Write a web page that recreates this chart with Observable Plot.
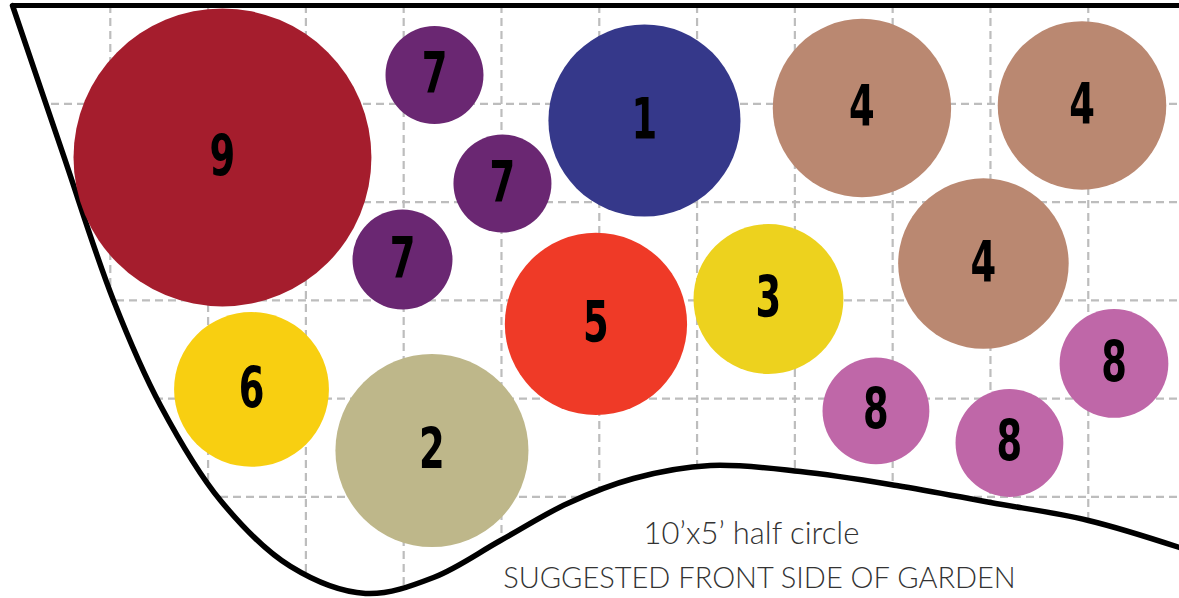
<!DOCTYPE html>
<html>
<head>
<meta charset="utf-8">
<script src="https://cdn.jsdelivr.net/npm/d3@7"></script>
<script src="https://cdn.jsdelivr.net/npm/@observablehq/plot@0.6"></script>
<style>
  html, body { margin: 0; padding: 0; background: #fff; }
  #chart svg { display: block; }
</style>
</head>
<body>
<div id="chart"></div>
<script>
// ---- Data (grid units; one grid square = 1) ----
const plantLabels = ["9", "7", "7", "7", "1", "4", "4", "4", "3", "5", "6", "2", "8", "8", "8"];
const plantX      = [2.147, 4.315, 5.010, 3.988, 6.462, 8.686, 10.936, 9.928, 7.730, 5.966, 2.444, 4.289, 8.829, 10.194, 11.263];
const plantY      = [1.546, 0.707, 1.811, 2.584, 1.170, 1.043, 1.017, 2.625, 2.986, 3.240, 3.906, 4.527, 4.125, 4.451, 3.642];
const plantR      = [1.52, 0.50, 0.50, 0.51, 0.98, 0.91, 0.86, 0.87, 0.765, 0.93, 0.79, 0.985, 0.545, 0.55, 0.555];
const plantColors = {
  "1": "#35388A", "2": "#BEB78A", "3": "#EDD21E", "4": "#BA8871", "5": "#EF3A27",
  "6": "#F8CF11", "7": "#6A2772", "8": "#BF67A8", "9": "#A51D2D"
};

// garden border (left side sweeping down into the front edge)
const edgeX = [0, 0.511, 1.033, 1.513, 2.127, 2.843, 3.609, 4.305, 4.990, 5.675, 6.350, 7.137, 8.057, 9.039, 10.000, 11.002, 11.933];
const edgeY = [0, 1.495, 3.001, 4.069, 5.036, 5.707, 5.982, 5.819, 5.443, 5.066, 4.812, 4.680, 4.741, 4.883, 5.056, 5.239, 5.514];

const gridXTicks = [1, 2, 3, 4, 5, 6, 7, 8, 9, 10, 11];
const gridYTicks = [1, 2, 3, 4, 5];

const noteText = ["10\u2019x5\u2019 half circle", "SUGGESTED FRONT SIDE OF GARDEN"];
const noteX = [7.556, 7.638];
const noteY = [5.381, 5.834];
const noteSize = [31, 29];

const X_MAX = 11.933;
const Y_MAX = 6.033;

// ---- Build tables ----
const plants = plantLabels.map((label, i) => ({label, x: plantX[i], y: plantY[i], r: plantR[i], color: plantColors[label]}));
const edge = edgeX.map((x, i) => ({x, y: edgeY[i]}));
const notes = noteText.map((text, i) => ({text, x: noteX[i], y: noteY[i], size: noteSize[i]}));

const gridStyle = {stroke: "#bdbdbd", strokeOpacity: 1, strokeWidth: 2.2, strokeDasharray: "8,5"};

const chart = Plot.plot({
  width: 1179,
  height: 598,
  marginLeft: 12,
  marginRight: 0,
  marginTop: 5,
  marginBottom: 0,
  style: {background: "#fff", overflow: "visible"},
  x: {domain: [0, X_MAX], axis: null},
  y: {domain: [0, Y_MAX], reverse: true, axis: null},
  r: {type: "linear", domain: [0, 1], range: [0, 98]},
  color: {type: "identity"},
  marks: [
    Plot.gridX(gridXTicks, gridStyle),
    Plot.gridY(gridYTicks, gridStyle),
    Plot.areaY(edge, {x: "x", y1: "y", y2: () => Y_MAX, fill: "white", curve: "catmull-rom"}),
    Plot.line(edge, {x: "x", y: "y", stroke: "black", strokeWidth: 5.5, curve: "catmull-rom"}),
    Plot.ruleY([0], {stroke: "black", strokeWidth: 5}),
    Plot.dot(plants, {x: "x", y: "y", r: "r", fill: "color", stroke: null, sort: null}),
    Plot.text(plants, {x: "x", y: "y", text: "label", fill: "black", fontSize: 57, fontWeight: "bold",
      fontFamily: "'Liberation Sans Narrow', 'DejaVu Sans Condensed', sans-serif"}),
    Plot.text(notes, {x: "x", y: "y", text: "text", fill: "#333", fontSize: "size", fontWeight: 300,
      fontFamily: "'Source Sans Pro', Lato, 'Open Sans', sans-serif"})
  ]
});

// condense the plant number glyphs horizontally (keep Plot's own baseline offset)
const plantTexts = new Set(plantLabels);
chart.querySelectorAll("text").forEach(t => {
  if (!plantTexts.has(t.textContent.trim())) return;
  const tr = t.getAttribute("transform") || "";
  if (tr) {
    t.setAttribute("transform", `${tr} scale(0.72,1)`);
  } else {
    const tx = +t.getAttribute("x") || 0;
    t.removeAttribute("x");
    t.setAttribute("transform", `translate(${tx},0) scale(0.72,1)`);
  }
});

document.getElementById("chart").appendChild(chart);
</script>
</body>
</html>
